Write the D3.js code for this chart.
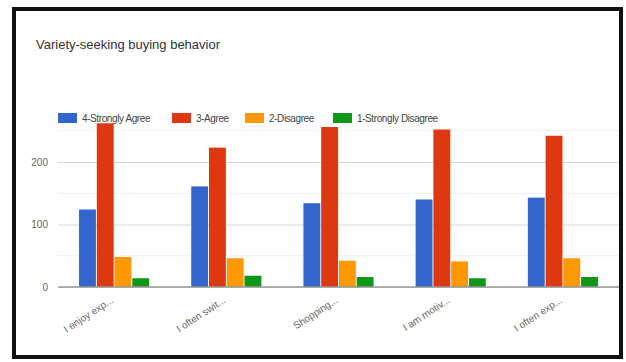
<!DOCTYPE html>
<html>
<head>
<meta charset="utf-8">
<script src="https://cdn.jsdelivr.net/npm/d3@7"></script>
<style>
  body { margin: 0; background: #fff; }
  svg { display: block; font-family: "Liberation Sans", Arial, sans-serif; }
</style>
</head>
<body>
<svg id="chart" width="626" height="362"></svg>
<script>
const title = "Variety-seeking buying behavior";
const categories = ["I enjoy exp...", "I often swit...", "Shopping...", "I am motiv...", "I often exp..."];
const seriesNames = ["4-Strongly Agree", "3-Agree", "2-Disagree", "1-Strongly Disagree"];
const seriesColors = ["#3366cc", "#dc3912", "#ff9900", "#109618"];
const stronglyAgree = [124, 161, 134, 140, 143];
const agree = [262, 223, 256, 252, 242];
const disagree = [48, 46, 42, 41, 46];
const stronglyDisagree = [14, 18, 16, 14, 16];
const majorTicks = [0, 100, 200];
const minorTicks = [50, 150, 250];

const seriesValues = [stronglyAgree, agree, disagree, stronglyDisagree];

const svg = d3.select("#chart");

// outer frame
svg.append("rect")
  .attr("x", 14).attr("y", 9).attr("width", 607).attr("height", 348)
  .attr("fill", "#fff").attr("stroke", "#111").attr("stroke-width", 4);

const plot = { left: 58, right: 619, top: 112, bottom: 287 };

const x0 = d3.scaleBand().domain(categories)
  .range([plot.left, plot.right]).paddingInner(0.375).paddingOuter(0.1875);
const x1 = d3.scaleBand().domain(seriesNames)
  .range([0, x0.bandwidth()]).paddingInner(0.05);
const y = d3.scaleLinear().domain([0, 280]).range([plot.bottom, plot.top]);

// title
svg.append("text").attr("x", 36).attr("y", 49)
  .attr("font-size", 13).attr("fill", "#333").text(title);

// minor gridlines
svg.append("g").selectAll("line").data(minorTicks).join("line")
  .attr("x1", plot.left).attr("x2", plot.right)
  .attr("y1", d => y(d)).attr("y2", d => y(d))
  .attr("stroke", "#eee").attr("stroke-width", 1);

// major gridlines + labels via axis
const yAxis = d3.axisLeft(y).tickValues(majorTicks).tickSize(-(plot.right - plot.left)).tickPadding(10);
const gy = svg.append("g").attr("transform", `translate(${plot.left},0)`).call(yAxis);
gy.select(".domain").remove();
gy.selectAll(".tick line").attr("stroke", "#d8d8d8");
gy.selectAll(".tick text").attr("fill", "#666").attr("font-size", 10)
  .attr("font-family", "Liberation Sans, Arial, sans-serif");

// bars
const groups = svg.append("g").selectAll("g").data(categories).join("g")
  .attr("transform", d => `translate(${x0(d)},0)`);
groups.selectAll("rect")
  .data((c, i) => seriesNames.map((s, j) => ({ s, v: seriesValues[j][i], color: seriesColors[j] })))
  .join("rect")
  .attr("x", d => x1(d.s))
  .attr("width", x1.bandwidth())
  .attr("y", d => y(d.v))
  .attr("height", d => y(0) - y(d.v))
  .attr("fill", d => d.color);

// baseline
svg.append("line")
  .attr("x1", plot.left).attr("x2", plot.right)
  .attr("y1", y(0)).attr("y2", y(0))
  .attr("stroke", "#999").attr("stroke-width", 1.5);

// x axis labels
const xAxis = d3.axisBottom(x0).tickSize(0).tickPadding(0);
const gx = svg.append("g").attr("transform", `translate(0,${plot.bottom})`).call(xAxis);
gx.select(".domain").remove();
gx.selectAll(".tick text")
  .attr("fill", "#666").attr("font-size", 10)
  .attr("font-family", "Liberation Sans, Arial, sans-serif")
  .attr("text-anchor", "end")
  .attr("dy", 0)
  .attr("transform", "translate(0,15) rotate(-33)");

// legend
const legendX = [58, 172, 245, 333];
const lg = svg.append("g").selectAll("g").data(seriesNames).join("g")
  .attr("transform", (d, i) => `translate(${legendX[i]},113)`);
lg.append("rect").attr("width", 19).attr("height", 10)
  .attr("fill", (d, i) => seriesColors[i]);
lg.append("text").attr("x", 24).attr("y", 9)
  .attr("font-size", 10).attr("fill", "#444").attr("letter-spacing", -0.4)
  .text(d => d);
</script>
</body>
</html>
